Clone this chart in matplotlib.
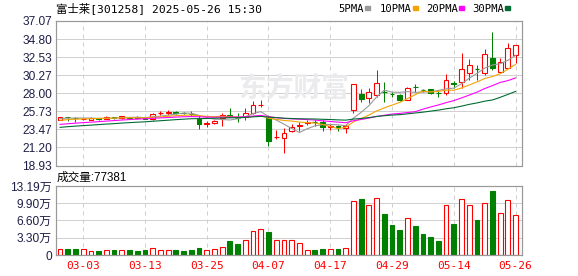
import numpy as np
import matplotlib
matplotlib.use("Agg")
import matplotlib.pyplot as plt

# ---------------- data ----------------
title = "富士莱[301258] 2025-05-26 15:30"
vol_title = "成交量"
last_volume = "77381"

dates = ["02-26", "02-27", "02-28",
         "03-03", "03-04", "03-05", "03-06", "03-07", "03-10", "03-11", "03-12", "03-13", "03-14",
         "03-17", "03-18", "03-19", "03-20", "03-21", "03-24", "03-25", "03-26", "03-27", "03-28", "03-31",
         "04-01", "04-02", "04-03", "04-07", "04-08", "04-09", "04-10", "04-11", "04-14", "04-15", "04-16",
         "04-17", "04-18", "04-21", "04-22", "04-23", "04-24", "04-25", "04-28", "04-29", "04-30",
         "05-06", "05-07", "05-08", "05-09", "05-12", "05-13", "05-14", "05-15", "05-16", "05-19",
         "05-20", "05-21", "05-22", "05-23", "05-26"]

open_ = [24.70, 25.02, 24.90, 24.72, 24.60, 24.85, 24.80, 25.00, 24.85, 25.00,
         24.98, 24.85, 24.72, 25.47, 25.55, 25.62, 25.52, 25.40, 24.72, 24.18,
         24.22, 24.90, 25.30, 24.90, 25.00, 25.55, 26.50, 24.90, 22.50, 22.33,
         23.28, 23.95, 24.30, 24.35, 24.45, 23.80, 23.85, 23.70, 25.88, 27.95,
         27.44, 27.77, 28.19, 27.90, 27.80, 27.15, 28.78, 28.40, 28.50, 28.05,
         27.99, 29.25, 29.37, 30.50, 31.00, 30.50, 32.46, 30.70, 31.20, 32.80]
high = [25.05, 25.05, 25.05, 24.85, 24.97, 24.95, 25.10, 25.02, 25.20, 25.05,
        25.15, 24.95, 25.50, 25.72, 25.93, 25.80, 25.60, 25.72, 25.22, 24.55,
        24.65, 25.55, 26.10, 25.55, 26.10, 27.00, 27.20, 25.15, 23.38, 23.60,
        24.10, 24.40, 24.60, 24.60, 24.70, 24.09, 24.00, 24.20, 29.15, 28.49,
        28.62, 30.91, 29.44, 28.19, 27.90, 28.82, 29.12, 28.53, 28.55, 28.40,
        30.37, 29.50, 33.10, 32.27, 31.54, 33.60, 35.65, 32.38, 34.27, 34.06]
low = [24.65, 24.55, 24.42, 24.60, 24.58, 24.65, 24.78, 24.80, 24.80, 24.90,
       24.80, 24.75, 24.70, 25.30, 25.30, 25.40, 25.35, 25.10, 23.50, 23.80,
       24.15, 23.95, 25.00, 24.35, 24.65, 25.40, 26.25, 21.40, 22.20, 20.55,
       23.15, 23.30, 24.00, 23.90, 23.30, 23.38, 23.29, 23.05, 25.55, 26.93,
       26.73, 27.56, 26.93, 27.56, 27.05, 27.10, 28.19, 28.11, 27.95, 27.56,
       27.77, 28.62, 28.62, 29.66, 29.66, 30.29, 30.91, 30.58, 31.13, 31.76]
close = [25.00, 24.98, 24.85, 24.75, 24.85, 24.80, 25.05, 24.85, 25.17, 24.93,
         24.95, 24.80, 25.45, 25.47, 25.60, 25.58, 25.47, 25.35, 24.10, 24.22,
         24.55, 25.30, 25.05, 24.85, 25.50, 26.50, 26.55, 22.05, 22.55, 22.96,
         23.78, 24.00, 24.40, 24.35, 23.75, 23.88, 23.80, 23.85, 29.15, 27.30,
         28.11, 29.24, 28.19, 27.86, 27.15, 28.62, 28.74, 28.40, 28.00, 28.00,
         29.62, 29.20, 31.10, 31.54, 31.00, 32.90, 31.20, 31.88, 33.70, 34.06]
# closes before the first visible day (estimated from where the MA lines start)
prior_close = [22.5, 22.7, 22.9, 23.0, 22.8, 23.1, 23.2, 23.0, 23.3, 23.3,
               23.4, 23.3, 23.5, 23.6, 23.5, 23.7, 23.6, 23.8, 23.7, 23.7,
               24.1, 24.3, 24.4, 24.6, 24.5, 24.7, 24.8, 24.7, 24.9]
# volume in 万 shares
volume = [1.22, 1.09, 1.09, 1.22, 0.83, 0.70, 1.03, 0.90, 1.03, 0.90,
          0.77, 0.90, 1.35, 0.90, 1.03, 0.90, 0.77, 0.90, 1.28, 1.03,
          1.22, 1.60, 2.63, 2.05, 2.95, 4.68, 5.06, 4.36, 2.95, 2.95,
          2.95, 2.37, 1.03, 0.90, 1.09, 1.22, 1.09, 1.41, 10.26, 10.70,
          9.55, 10.83, 7.82, 5.71, 4.74, 6.99, 5.51, 3.97, 3.40, 2.63,
          9.49, 5.90, 10.64, 9.55, 6.67, 9.87, 12.24, 7.95, 10.45, 7.74]

price_ticks = [18.93, 21.20, 23.47, 25.73, 28.00, 30.27, 32.53, 34.80, 37.07]
vol_ticks = [0, 3.30, 6.60, 9.90, 13.19]
vol_tick_labels = ["0", "3.30万", "6.60万", "9.90万", "13.19万"]
date_ticks = ["03-03", "03-13", "03-25", "04-07", "04-17", "04-29", "05-14", "05-26"]
ma_periods = [5, 10, 20, 30]
ma_names = ["5PMA", "10PMA", "20PMA", "30PMA"]

# ---------------- style ----------------
W, H = 578, 276
RED = "#ff0000"
GREEN = "#008000"
MA_COLORS = ["#999999", "#f5a300", "#ff00ff", "#006b33"]
FRAME = "#999999"
GRID = "#d0d0d0"
LABEL = "#1e1e46"
px = 72 / 100.0  # 1 pixel in points at dpi 100

fig = plt.figure(figsize=(W / 100, H / 100), dpi=100)
fig.patch.set_facecolor("white")


def axes_px(x0, y0, x1, y1):
    return fig.add_axes([x0 / W, 1 - y1 / H, (x1 - x0) / W, (y1 - y0) / H])


n = len(close)
x = np.arange(n)
o = np.array(open_)
c = np.array(close)
hi = np.array(high)
lo = np.array(low)
prev = np.concatenate([[prior_close[-1]], c[:-1]])
up = (c > o) | ((c == o) & (c >= prev))

tick_idx = [dates.index(d) for d in date_ticks]
xlim = (-0.52, n - 1 + 0.83)
bw = 0.62

# ---------------- price panel ----------------
ax = axes_px(56, 21, 522, 165.5)
ax.set_xlim(*xlim)
ax.set_ylim(price_ticks[0], price_ticks[-1])
for t in price_ticks[1:-1]:
    ax.axhline(t, color=GRID, lw=1 * px, zorder=0)
for i in tick_idx:
    ax.axvline(i, color=GRID, lw=1 * px, ls=(0, (4, 4)), zorder=0)

ax.text(0.51, 0.535, "东方财富", transform=ax.transAxes, ha="center", va="center",
        fontsize=20, color="#ebebee", fontweight="bold",
        family=["Noto Sans CJK SC"], zorder=0.5)

for i in range(n):
    col = RED if up[i] else GREEN
    b0, b1 = min(o[i], c[i]), max(o[i], c[i])
    ax.vlines(i, lo[i], b0, color=col, lw=1 * px, zorder=2)
    ax.vlines(i, b1, hi[i], color=col, lw=1 * px, zorder=2)
    if b1 - b0 < 0.03:
        ax.hlines(c[i], i - bw / 2, i + bw / 2, color=col, lw=1.3 * px, zorder=3)
    else:
        ax.bar(i, b1 - b0, bottom=b0, width=bw,
               facecolor="white" if up[i] else GREEN, edgecolor=col,
               lw=1.1 * px, zorder=3)

full = np.concatenate([prior_close, c])
for p, colr in zip(ma_periods, MA_COLORS):
    ma = np.convolve(full, np.ones(p) / p, mode="valid")[-n:]
    ax.plot(x, ma, color=colr, lw=1.1 * px, zorder=4)

ax.set_yticks(price_ticks)
ax.set_yticklabels([f"{t:.2f}" for t in price_ticks])
ax.set_xticks([])
ax.tick_params(axis="y", length=0, pad=3, labelsize=8.6, labelcolor=LABEL)
for lab in ax.get_yticklabels():
    lab.set_family(["Liberation Sans"])
for s in ax.spines.values():
    s.set_color(FRAME)
    s.set_linewidth(1.2 * px)

# ---------------- volume panel ----------------
av = axes_px(56, 186, 522, 255)
av.set_xlim(*xlim)
av.set_ylim(0, vol_ticks[-1])
for t in vol_ticks[1:-1]:
    av.axhline(t, color=GRID, lw=1 * px, zorder=0)
for i in tick_idx:
    av.axvline(i, color=GRID, lw=1 * px, ls=(0, (4, 4)), zorder=0)
av.bar(x, volume, width=bw,
       color=["white" if u else GREEN for u in up],
       edgecolor=[RED if u else GREEN for u in up], lw=1.1 * px, zorder=2)
av.set_yticks(vol_ticks)
av.set_yticklabels(vol_tick_labels)
av.tick_params(axis="y", length=0, pad=3, labelsize=8.6, labelcolor=LABEL)
for lab in av.get_yticklabels():
    lab.set_family(["Liberation Sans", "Noto Sans CJK SC"])
av.set_xticks(tick_idx)
av.set_xticklabels(date_ticks)
av.tick_params(axis="x", length=0, pad=4, labelsize=8, labelcolor=RED)
for lab in av.get_xticklabels():
    lab.set_family(["DejaVu Sans Mono"])
for s in av.spines.values():
    s.set_color(FRAME)
    s.set_linewidth(1.2 * px)

# ---------------- texts ----------------
fig.text(56 / W, 1 - 8.5 / H, title, ha="left", va="center", fontsize=8.2,
         family=["DejaVu Sans Mono", "Noto Sans CJK SC"], color="black")
fig.text(57 / W, 1 - 177.5 / H, f"{vol_title}:{last_volume}", ha="left", va="center",
         fontsize=8.4, family=["Liberation Sans", "Noto Sans CJK SC"], color="black")

leg_x = [338, 380, 426, 472]
sq_x = [365, 413, 459, 505]
for name, lx, sx, colr in zip(ma_names, leg_x, sq_x, MA_COLORS):
    fig.text(lx / W, 1 - 8.5 / H, name, ha="left", va="center", fontsize=7.6,
             family=["DejaVu Sans Mono"], color="black")
    fig.patches.append(plt.Rectangle((sx / W, 1 - 10 / H), 5 / W, 3.5 / H,
                                     transform=fig.transFigure, color=colr))

fig.savefig("out.png", dpi=100, facecolor="white")
